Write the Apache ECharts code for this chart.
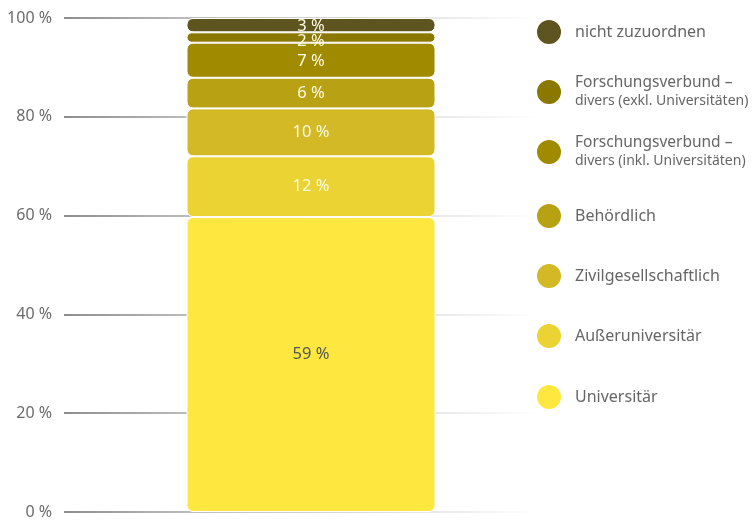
<!DOCTYPE html>
<html>
<head>
<meta charset="utf-8">
<script src="https://cdn.jsdelivr.net/npm/echarts@6/dist/echarts.min.js"></script>
<style>
    html, body { margin: 0; padding: 0; background: #fff; }
    #chart { width: 753px; height: 520px; }
</style>
</head>
<body>
<div id="chart"></div>
<script>
    // Reihenfolge von unten nach oben im Stapel
    const seriesNames = ['Universitär', 'Außeruniversitär', 'Zivilgesellschaftlich', 'Behördlich',
        'Forschungsverbund – divers (inkl. Universitäten)', 'Forschungsverbund – divers (exkl. Universitäten)', 'nicht zuzuordnen'];
    const seriesValues = [59.7, 12.3, 9.7, 6.2, 7.1, 2.1, 2.9];
    const valueLabels = ['59 %', '12 %', '10 %', '6 %', '7 %', '2 %', '3 %'];
    const seriesColors = ['#fee840', '#ead332', '#d3b925', '#b9a114', '#a08a00', '#8a7800', '#5e5420'];
    const labelColors = ['#555555', '#fffbe0', '#fffbe0', '#fffbe0', '#fffbe0', '#fffbe0', '#fffbe0'];
    const yTicks = [0, 20, 40, 60, 80, 100];
    // vertikale Mitte der Legendensymbole, von oben nach unten
    const legendCenters = [31, 93, 153, 215, 275, 335, 396];
    // kleine Verschiebung der Balkenbeschriftungen wie im Original
    const labelShift = [-10, 0, 0, 0, 1, 4, 1];

    const fontFamily = '"Noto Sans", sans-serif';

    let myChart = echarts.init(document.getElementById('chart'));

    let series = seriesNames.map((name, i) => ({
        name: name,
        type: 'bar',
        stack: 'total',
        barWidth: 249,
        data: [seriesValues[i]],
        itemStyle: {
            color: seriesColors[i],
            borderColor: '#ffffff',
            borderWidth: 1,
            borderRadius: 6
        },
        label: {
            show: true,
            position: 'inside',
            offset: [0, labelShift[i]],
            formatter: () => valueLabels[i],
            color: labelColors[i],
            fontSize: 16.5,
            fontFamily: fontFamily
        }
    }));

    // Legende: ein Eintrag je Komponente, zweizeilige Einträge mit kleinerer zweiter Zeile
    let legendOrder = seriesNames.slice().reverse();
    let legends = legendOrder.map((name, i) => {
        let twoLines = name.indexOf(' – ') >= 0;
        return {
            orient: 'vertical',
            left: 530,
            top: legendCenters[i] - (twoLines ? 18 : 13) - 5,
            icon: 'circle',
            itemWidth: 42,
            itemHeight: 26,
            selectedMode: false,
            data: [name],
            formatter: n => {
                let parts = n.split(' – ');
                if (parts.length > 1) {
                    return '{f|' + parts[0] + ' –}\n{b|' + parts[1] + '}';
                }
                return '{a|' + n + '}';
            },
            textStyle: {
                color: '#666666',
                fontFamily: fontFamily,
                rich: {
                    a: { fontSize: 16, lineHeight: 18, color: '#666666', fontFamily: fontFamily },
                    f: { fontSize: 15.5, lineHeight: 18, color: '#666666', fontFamily: fontFamily },
                    b: { fontSize: 14, lineHeight: 18, color: '#666666', fontFamily: fontFamily }
                }
            }
        };
    });

    myChart.setOption({
        animation: false,
        grid: {
            left: 64,
            right: 195,
            top: 18,
            bottom: 7
        },
        legend: legends,
        xAxis: {
            type: 'category',
            data: [''],
            axisLine: { show: false },
            axisTick: { show: false },
            axisLabel: { show: false }
        },
        yAxis: {
            type: 'value',
            min: 0,
            max: 100,
            interval: 20,
            axisLine: { show: false },
            axisTick: { show: false },
            axisLabel: {
                margin: 12,
                color: '#6b6b6b',
                fontSize: 16,
                fontFamily: fontFamily,
                formatter: v => (yTicks.indexOf(v) >= 0 ? v + ' %' : '')
            },
            splitLine: {
                lineStyle: {
                    width: 1.5,
                    color: {
                        type: 'linear',
                        x: 0, y: 0, x2: 1, y2: 0,
                        colorStops: [
                            { offset: 0, color: '#666666' },
                            { offset: 0.25, color: '#a5a5a5' },
                            { offset: 0.76, color: '#e2e2e2' },
                            { offset: 0.95, color: '#ffffff' }
                        ]
                    }
                }
            }
        },
        series: series
    });
</script>
</body>
</html>
